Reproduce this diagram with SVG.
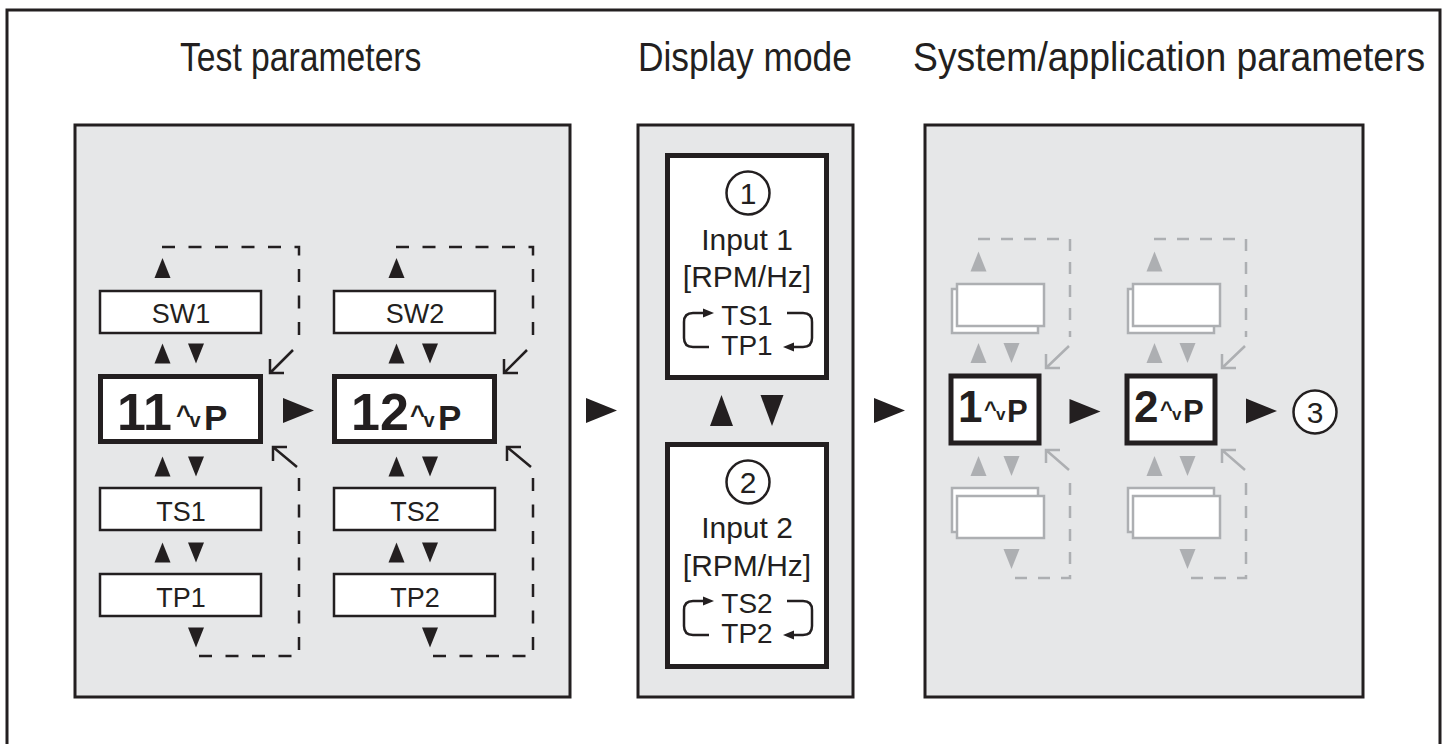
<svg xmlns="http://www.w3.org/2000/svg" width="1448" height="744" viewBox="0 0 1448 744">
<defs>
<style>
.t{font-family:"Liberation Sans",Arial,sans-serif;fill:#231f20}
.title{font-size:40px}
.lbl{font-size:27px;text-anchor:middle}
.mid{font-size:30px;text-anchor:middle}
.b{font-weight:bold}
.panel{fill:#e6e7e8;stroke:#231f20;stroke-width:3}
.box{fill:#fff;stroke:#231f20;stroke-width:2.5}
.bigbox{fill:#fff;stroke:#231f20;stroke-width:5}
.gbox{fill:#fff;stroke:#adafb2;stroke-width:2.5}
.tri{fill:#231f20}
.gtri{fill:#adafb2}
.dash{fill:none;stroke:#231f20;stroke-width:2.5;stroke-dasharray:13 13.5}
.gdash{fill:none;stroke:#adafb2;stroke-width:2.5;stroke-dasharray:12 11}
.ln{fill:none;stroke:#231f20;stroke-width:2.5}
.gln{fill:none;stroke:#adafb2;stroke-width:2.5}
.circ{fill:#fff;stroke:#231f20;stroke-width:2.5}
</style>
<polygon id="up" points="0,-10 8,10 -8,10"/>
<polygon id="dn" points="0,10 8,-10 -8,-10"/>
<polygon id="upL" points="0,-15.5 11.5,15.5 -11.5,15.5"/>
<polygon id="dnL" points="0,15.5 11.5,-15.5 -11.5,-15.5"/>
<polygon id="rt" points="-15.5,-12.5 15.5,0 -15.5,12.5"/>
</defs>

<path d="M7,752 V10 H1440 V752" fill="none" stroke="#231f20" stroke-width="3"/>

<g id="titles">
<text class="t title" transform="translate(180,71) scale(0.842,1)">Test parameters</text>
<text class="t title" transform="translate(638,71) scale(0.883,1)">Display mode</text>
<text class="t title" transform="translate(913,71) scale(0.933,1)">System/application parameters</text>
</g>

<g id="panels">
<rect class="panel" x="75" y="125" width="495" height="572"/>
<rect class="panel" x="638" y="125" width="215" height="572"/>
<rect class="panel" x="925" y="125" width="438" height="572"/>
</g>

<g id="connectors">
<path class="dash" d="M162,247 H299 V338"/>
<path class="ln" d="M293,350 L270,373 M270,359 V373 H284"/>
<path class="ln" d="M297,467 L273,447 M273,461 V447 H287"/>
<path class="dash" d="M299,478 V656 H197"/>
<path class="dash" d="M396,247 H533 V338"/>
<path class="ln" d="M527,350 L504,373 M504,359 V373 H518"/>
<path class="ln" d="M531,467 L507,447 M507,461 V447 H521"/>
<path class="dash" d="M533,478 V656 H431"/>
<path class="gdash" d="M978,239 H1070 V337"/>
<path class="gln" d="M1069,346 L1046,368 M1046,354 V368 H1060"/>
<path class="gln" d="M1069,470 L1046,450 M1046,463 V450 H1060"/>
<path class="gdash" d="M1070,483 V578 H1012"/>
<path class="gdash" d="M1154,239 H1246 V337"/>
<path class="gln" d="M1245,346 L1222,368 M1222,354 V368 H1236"/>
<path class="gln" d="M1245,470 L1222,450 M1222,463 V450 H1236"/>
<path class="gdash" d="M1246,483 V578 H1188"/>
<use href="#rt" class="tri" x="298.5" y="410.5"/>
<use href="#rt" class="tri" x="601.5" y="410.5"/>
<use href="#rt" class="tri" x="889.5" y="410.5"/>
<use href="#rt" class="tri" x="1085" y="411.5"/>
<use href="#rt" class="tri" x="1261.5" y="411"/>
<use href="#up" class="tri" x="162.5" y="268"/>
<use href="#up" class="tri" x="162.5" y="353.5"/>
<use href="#dn" class="tri" x="196" y="353.5"/>
<use href="#up" class="tri" x="162.5" y="466.5"/>
<use href="#dn" class="tri" x="196" y="466.5"/>
<use href="#up" class="tri" x="162.5" y="552.5"/>
<use href="#dn" class="tri" x="196" y="552.5"/>
<use href="#dn" class="tri" x="196" y="637.5"/>
<use href="#up" class="tri" x="396.5" y="268"/>
<use href="#up" class="tri" x="396.5" y="353.5"/>
<use href="#dn" class="tri" x="430" y="353.5"/>
<use href="#up" class="tri" x="396.5" y="466.5"/>
<use href="#dn" class="tri" x="430" y="466.5"/>
<use href="#up" class="tri" x="396.5" y="552.5"/>
<use href="#dn" class="tri" x="430" y="552.5"/>
<use href="#dn" class="tri" x="430" y="637.5"/>
<use href="#upL" class="tri" x="721.5" y="410.5"/>
<use href="#dnL" class="tri" x="772" y="410.5"/>
<use href="#up" class="gtri" x="978.5" y="261.5"/>
<use href="#up" class="gtri" x="978.5" y="353"/>
<use href="#dn" class="gtri" x="1011.5" y="353"/>
<use href="#up" class="gtri" x="978.5" y="466"/>
<use href="#dn" class="gtri" x="1011.5" y="466"/>
<use href="#dn" class="gtri" x="1011.5" y="559"/>
<use href="#up" class="gtri" x="1154.5" y="261.5"/>
<use href="#up" class="gtri" x="1154.5" y="353"/>
<use href="#dn" class="gtri" x="1187.5" y="353"/>
<use href="#up" class="gtri" x="1154.5" y="466"/>
<use href="#dn" class="gtri" x="1187.5" y="466"/>
<use href="#dn" class="gtri" x="1187.5" y="559"/>
</g>

<g id="node-sw1"><rect class="box" x="100" y="291" width="161" height="42"/><text class="t lbl" x="181" y="323">SW1</text></g>
<g id="node-11"><rect class="bigbox" x="100.5" y="376.5" width="160" height="65"/>
<text class="t b" x="117" y="430" font-size="52">11</text>
<text class="t b" x="176" y="424" font-size="26">^</text>
<text class="t b" x="189.5" y="427" font-size="20">v</text>
<text class="t b" x="204" y="430" font-size="35">P</text></g>
<g id="node-ts1"><rect class="box" x="100" y="488" width="161" height="42"/><text class="t lbl" x="181" y="521">TS1</text></g>
<g id="node-tp1"><rect class="box" x="100" y="574" width="161" height="42"/><text class="t lbl" x="181" y="607">TP1</text></g>

<g id="node-sw2"><rect class="box" x="334" y="291" width="161" height="42"/><text class="t lbl" x="415" y="323">SW2</text></g>
<g id="node-12"><rect class="bigbox" x="334.5" y="376.5" width="160" height="65"/>
<text class="t b" x="351" y="430" font-size="52">12</text>
<text class="t b" x="410" y="424" font-size="26">^</text>
<text class="t b" x="423.5" y="427" font-size="20">v</text>
<text class="t b" x="438" y="430" font-size="35">P</text></g>
<g id="node-ts2"><rect class="box" x="334" y="488" width="161" height="42"/><text class="t lbl" x="415" y="521">TS2</text></g>
<g id="node-tp2"><rect class="box" x="334" y="574" width="161" height="42"/><text class="t lbl" x="415" y="607">TP2</text></g>

<g id="node-input1">
<rect class="bigbox" x="667.5" y="155.5" width="159" height="222"/>
<circle class="circ" cx="748" cy="193" r="21.5"/>
<text class="t" x="748" y="204" font-size="30" text-anchor="middle">1</text>
<text class="t mid" x="747" y="250">Input 1</text>
<text class="t mid" x="747" y="287">[RPM/Hz]</text>
<text class="t" x="747" y="325" font-size="28" text-anchor="middle">TS1</text>
<text class="t" x="747" y="355" font-size="28" text-anchor="middle">TP1</text>
<path class="ln" d="M709,347 H693 Q684,347 684,338 V322 Q684,313 693,313 H704"/>
<polygon class="tri" points="714,313 703,308.5 703,317.5"/>
<path class="ln" d="M787,313 H803 Q812,313 812,322 V338 Q812,347 803,347 H793"/>
<polygon class="tri" points="783,347 794,342.5 794,351.5"/>
</g>

<g id="node-input2">
<rect class="bigbox" x="667.5" y="444.5" width="159" height="222"/>
<circle class="circ" cx="748" cy="482" r="21.5"/>
<text class="t" x="748" y="493" font-size="30" text-anchor="middle">2</text>
<text class="t mid" x="747" y="538">Input 2</text>
<text class="t mid" x="747" y="576">[RPM/Hz]</text>
<text class="t" x="747" y="613" font-size="28" text-anchor="middle">TS2</text>
<text class="t" x="747" y="643" font-size="28" text-anchor="middle">TP2</text>
<path class="ln" d="M709,635 H693 Q684,635 684,626 V610 Q684,601 693,601 H704"/>
<polygon class="tri" points="714,601 703,596.5 703,605.5"/>
<path class="ln" d="M787,601 H803 Q812,601 812,610 V626 Q812,635 803,635 H793"/>
<polygon class="tri" points="783,635 794,630.5 794,639.5"/>
</g>

<g id="node-sys-upper1"><rect class="gbox" x="952" y="289" width="86" height="44"/><rect class="gbox" x="957" y="284" width="87" height="42"/></g>
<g id="node-sys-lower1"><rect class="gbox" x="952" y="488" width="86" height="44"/><rect class="gbox" x="957" y="496" width="87" height="42"/></g>
<g id="node-sys-upper2"><rect class="gbox" x="1128" y="289" width="86" height="44"/><rect class="gbox" x="1133" y="284" width="87" height="42"/></g>
<g id="node-sys-lower2"><rect class="gbox" x="1128" y="488" width="86" height="44"/><rect class="gbox" x="1133" y="496" width="87" height="42"/></g>

<g id="node-sys1"><rect class="bigbox" x="951" y="376" width="88" height="67"/>
<text class="t b" x="958" y="422" font-size="44">1</text>
<text class="t b" x="984" y="417" font-size="22">^</text>
<text class="t b" x="996" y="420" font-size="17">v</text>
<text class="t b" x="1007" y="422" font-size="31">P</text></g>
<g id="node-sys2"><rect class="bigbox" x="1127" y="376" width="88" height="67"/>
<text class="t b" x="1134" y="422" font-size="44">2</text>
<text class="t b" x="1160" y="417" font-size="22">^</text>
<text class="t b" x="1172" y="420" font-size="17">v</text>
<text class="t b" x="1183" y="422" font-size="31">P</text></g>

<g id="node-3"><circle class="circ" cx="1315" cy="412" r="21.5"/>
<text class="t" x="1315" y="423" font-size="30" text-anchor="middle">3</text></g>
</svg>
